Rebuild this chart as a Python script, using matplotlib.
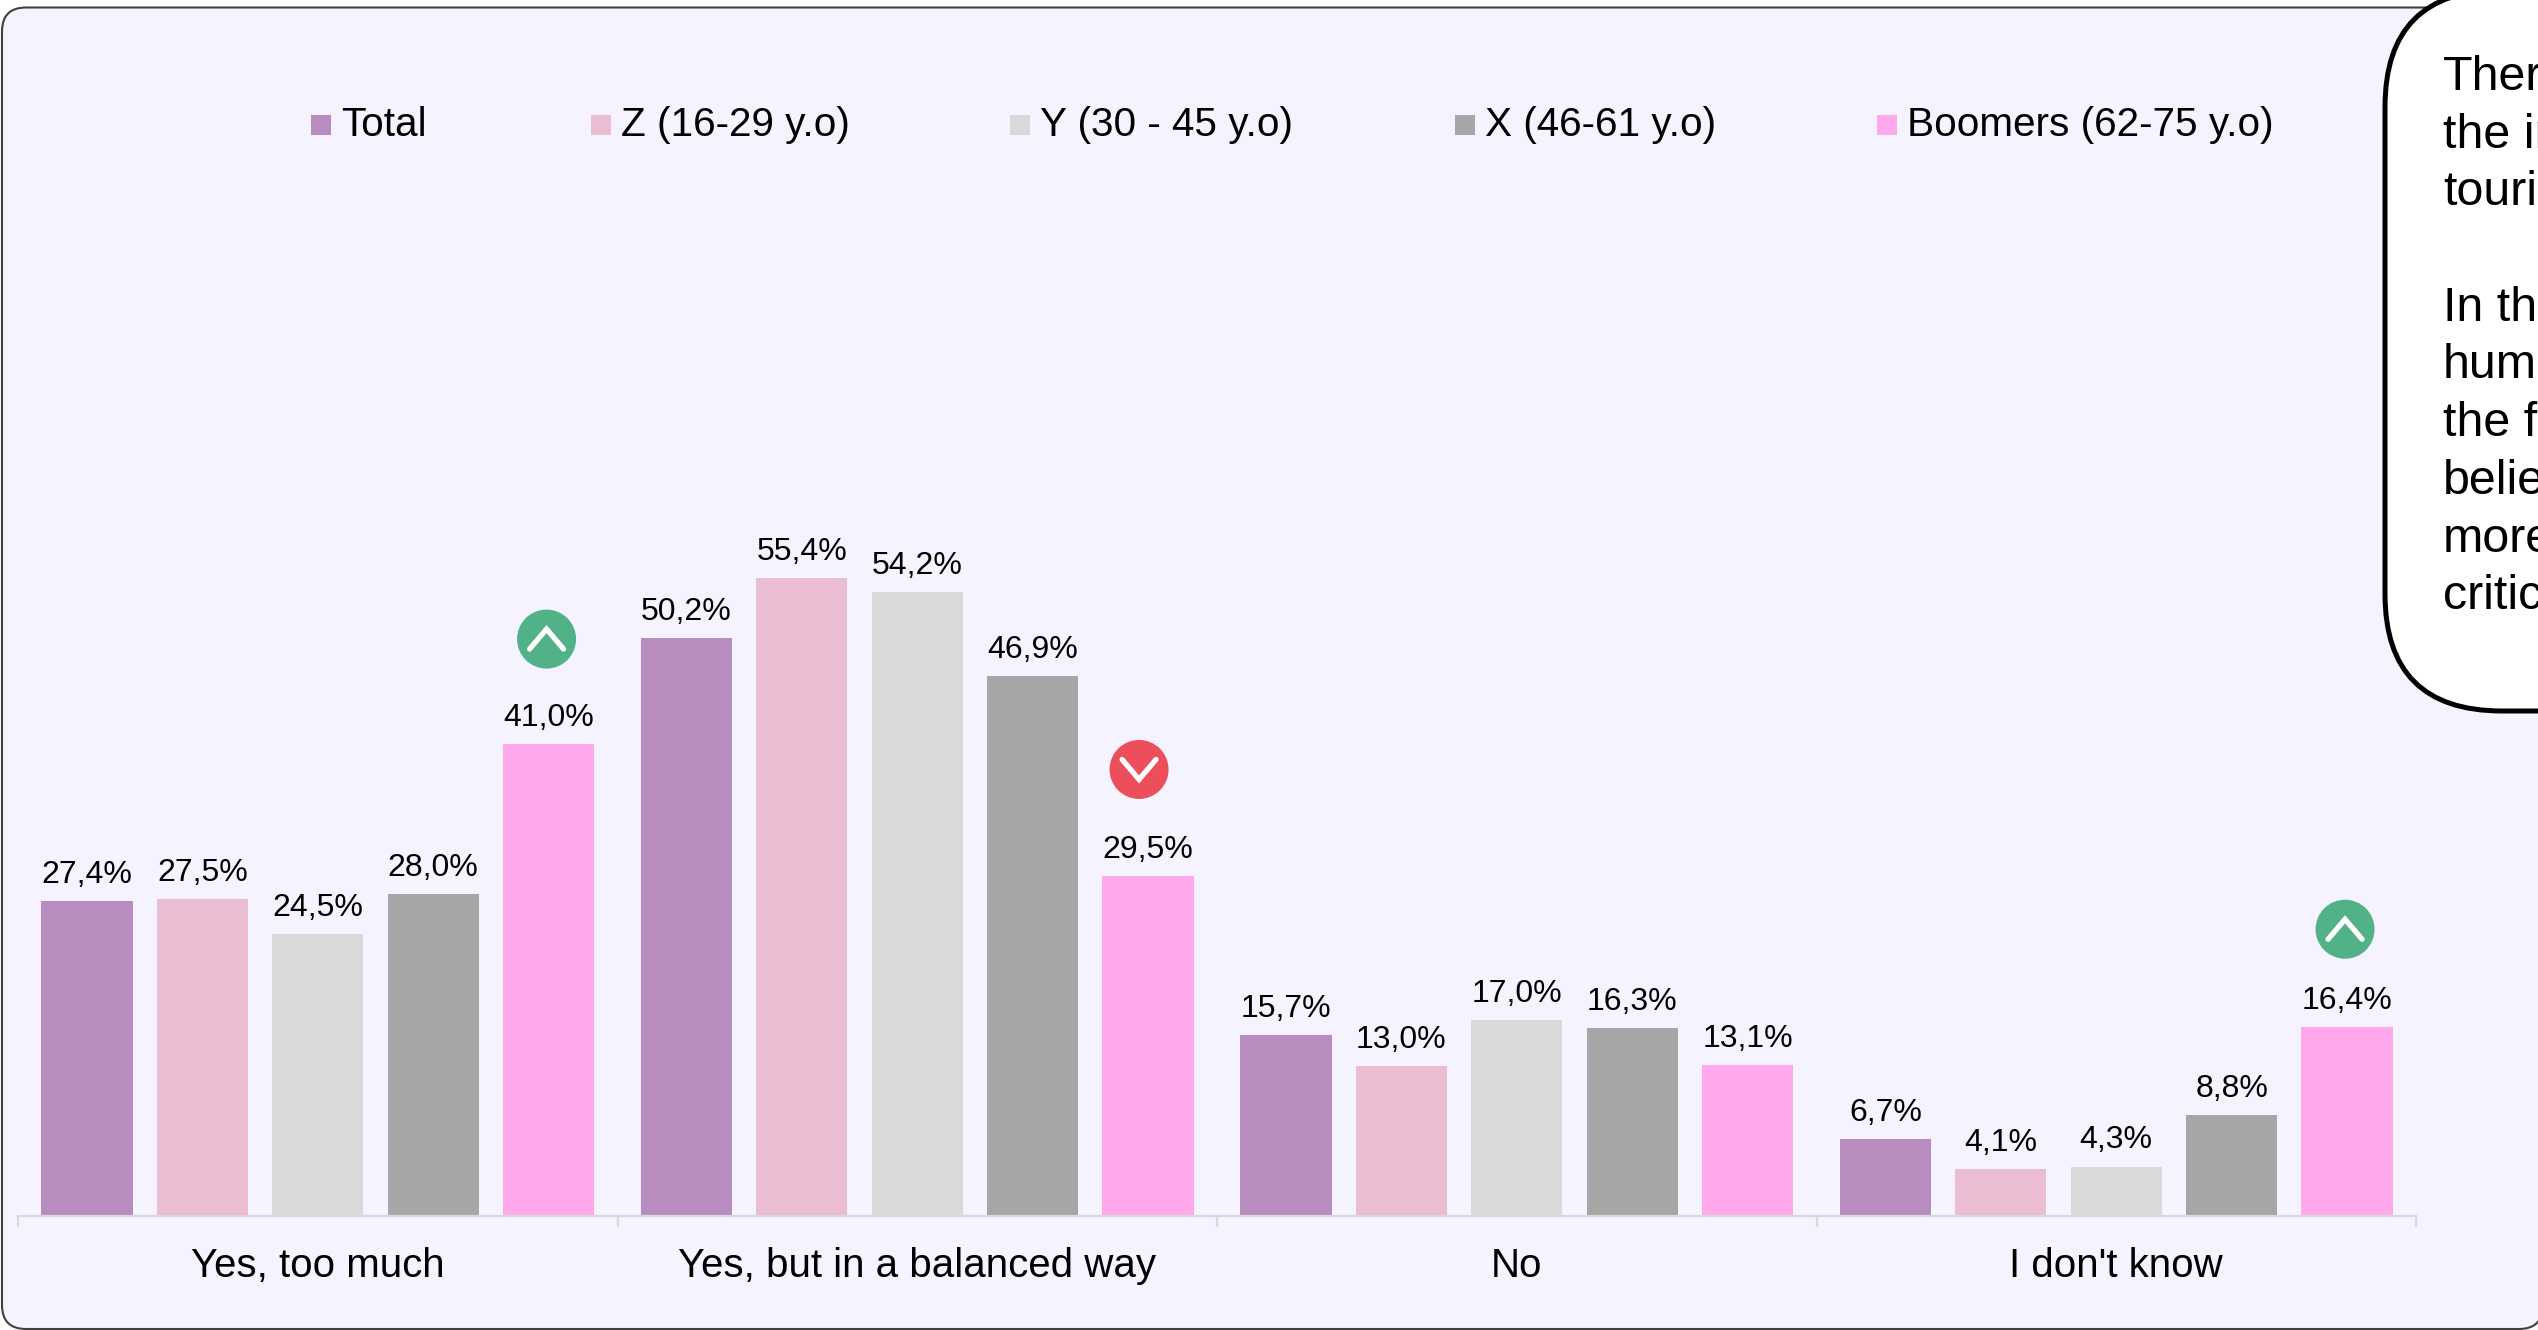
import matplotlib
matplotlib.use('Agg')
import matplotlib.pyplot as plt
import numpy as np
from matplotlib.patches import Circle, FancyBboxPatch, Rectangle

categories = ['Yes, too much', 'Yes, but in a balanced way', 'No', "I don't know"]
series_names = ['Total', 'Z (16-29 y.o)', 'Y (30 - 45 y.o)', 'X (46-61 y.o)', 'Boomers (62-75 y.o)']
total = [27.4, 50.2, 15.7, 6.7]
gen_z = [27.5, 55.4, 13.0, 4.1]
gen_y = [24.5, 54.2, 17.0, 4.3]
gen_x = [28.0, 46.9, 16.3, 8.8]
boomers = [41.0, 29.5, 13.1, 16.4]
callout_lines = ['Ther', 'the in', 'touris', '', 'In the', 'human', 'the fa', 'believ', 'more', 'critic']
# category index, series index, direction of the arrow
highlights = [(0, 4, 'up'), (1, 4, 'down'), (3, 4, 'up')]

colors = ['#B88CBE', '#EBBDD3', '#D9D9D9', '#A6A6A6', '#FFA8EB']
W, H = 2538, 1330
plt.rcParams['font.family'] = ['Liberation Sans', 'DejaVu Sans']

fig = plt.figure(figsize=(W / 100, H / 100), dpi=100, facecolor='white')

# pixel canvas behind the chart for the panel, legend, callout and icons
canvas = fig.add_axes([0, 0, 1, 1], zorder=0)
canvas.set_xlim(0, W)
canvas.set_ylim(H, 0)
canvas.axis('off')

canvas.add_patch(FancyBboxPatch((2, 7.5), 2541, 1321.5, boxstyle='round,pad=0,rounding_size=24',
                                fc='#F5F3FF', ec='#404040', lw=1.5))
canvas.add_patch(FancyBboxPatch((2385, -10), 400, 721, boxstyle='round,pad=0,rounding_size=117',
                                fc='white', ec='black', lw=3.6))
for i, line in enumerate(callout_lines):
    canvas.text(2443, 90 + i * 57.7, line, fontsize=34.8, color='black', va='baseline', ha='left')

# legend
legend_marker_x = [311, 591, 1010, 1455, 1877]
for name, color, x in zip(series_names, colors, legend_marker_x):
    canvas.add_patch(Rectangle((x, 115), 20, 20, fc=color, ec='none'))
    canvas.text(x + 30, 136.5, name, fontsize=29.2, color='black', va='baseline', ha='left')

# chart
ax_left, ax_right, ax_base, ax_top = 18, 2416, 1216, 100
ax = fig.add_axes([ax_left / W, 1 - ax_base / H, (ax_right - ax_left) / W, (ax_base - ax_top) / H], zorder=1)
ax.patch.set_visible(False)
ax.set_xlim(0, 4)
ax.set_ylim(0, (ax_base - ax_top) / 11.51)

step = 0.1925
width = 0.152
x = np.arange(4) + 0.5
for j, (values, color) in enumerate(zip([total, gen_z, gen_y, gen_x, boomers], colors)):
    pos = x + (j - 2) * step
    ax.bar(pos, values, width=width, color=color, linewidth=0)
    for p, v in zip(pos, values):
        ax.annotate(f'{v:.1f}%'.replace('.', ','), (p, v), xytext=(0, 13), textcoords='offset points',
                    ha='center', va='baseline', fontsize=23, color='black')

for side in ['top', 'left', 'right']:
    ax.spines[side].set_visible(False)
ax.spines['bottom'].set_color('#D9D9D9')
ax.spines['bottom'].set_linewidth(1.6)
ax.set_yticks([])
ax.set_xticks(np.arange(5))
ax.set_xticklabels([])
ax.tick_params(axis='x', which='major', length=8, width=1.6, color='#D9D9D9')
ax.set_xticks(x, minor=True)
ax.set_xticklabels(categories, minor=True, fontsize=29, color='black')
ax.tick_params(axis='x', which='minor', length=0, pad=22)

# arrow icons above the highlighted bars
series = [total, gen_z, gen_y, gen_x, boomers]
icon_offsets = [(-2, 105), (-9, 107), (-2, 98)]
fig.canvas.draw()
for (c, s, direction), (dx, dy) in zip(highlights, icon_offsets):
    px, py = canvas.transData.inverted().transform(ax.transData.transform((x[c] + (s - 2) * step, series[s][c])))
    cx, cy = px + dx, py - dy
    canvas.add_patch(Circle((cx, cy), 29.5, fc='#50B286' if direction == 'up' else '#EC4E5B', ec='none'))
    sign = -1 if direction == 'up' else 1
    canvas.plot([cx - 17, cx, cx + 17], [cy - sign * 10, cy + sign * 10, cy - sign * 10], color='white', lw=3.8,
                solid_capstyle='round', solid_joinstyle='miter')

fig.savefig('out.png', dpi=100, facecolor='white')
